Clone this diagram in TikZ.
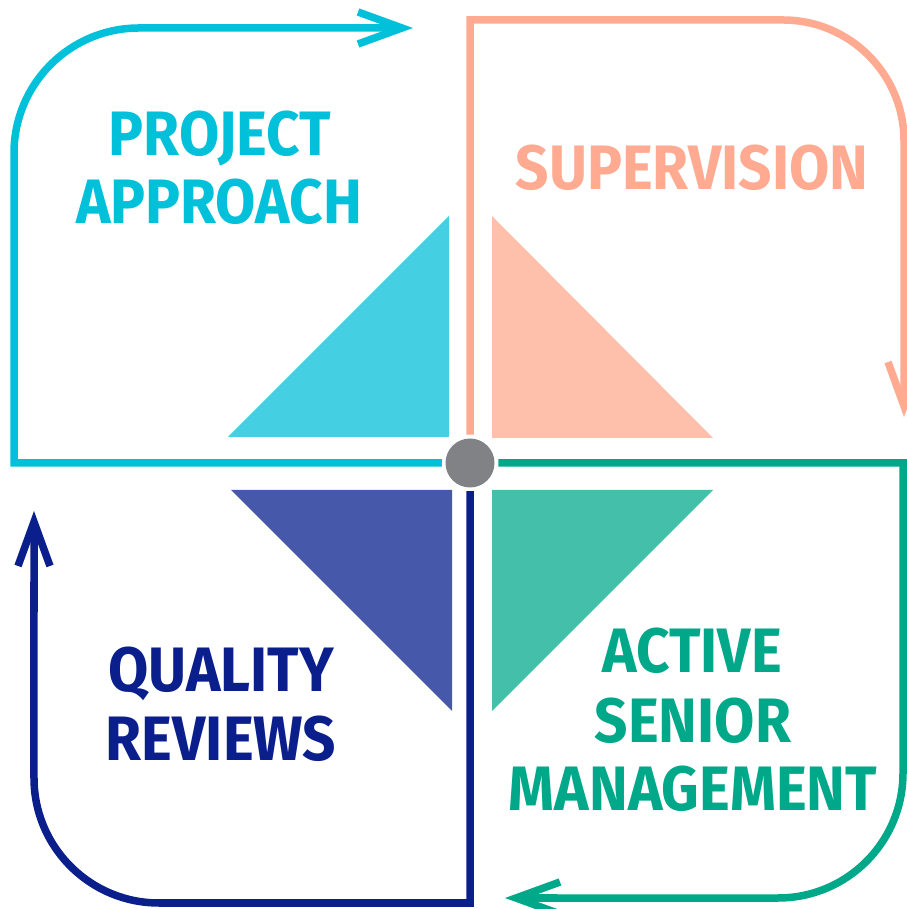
\documentclass[tikz,border=0pt]{standalone}
\usepackage{fontspec}
\setmainfont{Fira Sans}[FakeStretch=0.93]
\usepackage{tikz}
\usetikzlibrary{arrows.meta}
\definecolor{cyanline}{RGB}{0,192,218}
\definecolor{cyantri}{RGB}{68,208,226}
\definecolor{salmonline}{RGB}{255,170,145}
\definecolor{salmontri}{RGB}{255,192,171}
\definecolor{tealline}{RGB}{0,168,138}
\definecolor{tealtri}{RGB}{68,192,170}
\definecolor{navyline}{RGB}{10,30,140}
\definecolor{navytri}{RGB}{70,88,170}
\definecolor{hubgray}{RGB}{128,130,133}

\begin{document}
\begin{tikzpicture}[x=1bp, y=1bp, >={Straight Barb[length=44bp,width=32bp]}, line width=7.5bp]
      \tikzstyle{loop line} = [draw, ->, line join=miter]
      \tikzstyle{label node} = [anchor=base, inner sep=0pt, font=\fontsize{63}{63}\selectfont\bfseries]
      \useasboundingbox (0,0) rectangle (907,909);

      %triangles
      \fill[cyantri]   (228,472) -- (449,472) -- (449,693) -- cycle;
      \fill[salmontri] (492,693) -- (492,471) -- (713,471) -- cycle;
      \fill[navytri]   (231,419) -- (452,419) -- (452,198) -- cycle;
      \fill[tealtri]   (492,419) -- (713,419) -- (492,198) -- cycle;

      %nodes
      \node[circle, fill=hubgray, minimum size=49bp, inner sep=0pt] (hub) at (470,446) {};
      \coordinate (cyanend)   at (413,881);
      \coordinate (salmonend) at (904,492);
      \coordinate (tealend)   at (505,11);
      \coordinate (navyend)   at (34,398);

      \node[label node, text=cyanline]   (project)     at (220,753) {PROJECT};
      \node[label node, text=cyanline]   (approach)    at (219,685) {APPROACH};
      \node[label node, text=salmonline] (supervision) at (692,719) {SUPERVISION};
      \node[label node, text=navyline]   (quality)     at (221,217) {QUALITY};
      \node[label node, text=navyline]   (reviews)     at (221,148) {REVIEWS};
      \node[label node, text=tealline]   (active)      at (692,236) {ACTIVE};
      \node[label node, text=tealline]   (senior)      at (693,166) {SENIOR};
      \node[label node, text=tealline]   (management)  at (693,98)  {MANAGEMENT};

      %lines
      \path [loop line, draw=cyanline] (hub.west) -- (14,446) -- (14,756)
         arc[start angle=180, end angle=90, radius=125bp] -- (cyanend);
      \path [loop line, draw=salmonline] (hub.north) -- (470,889) -- (783,889)
         arc[start angle=90, end angle=0, radius=121bp] -- (salmonend);
      \path [loop line, draw=tealline] (hub.east) -- (903,446) -- (903,136)
         arc[start angle=0, end angle=-90, radius=125bp] -- (tealend);
      \path [loop line, draw=navyline] (hub.south) -- (470,6) -- (159,6)
         arc[start angle=270, end angle=180, radius=125bp] -- (navyend);
    \end{tikzpicture}
\end{document}
